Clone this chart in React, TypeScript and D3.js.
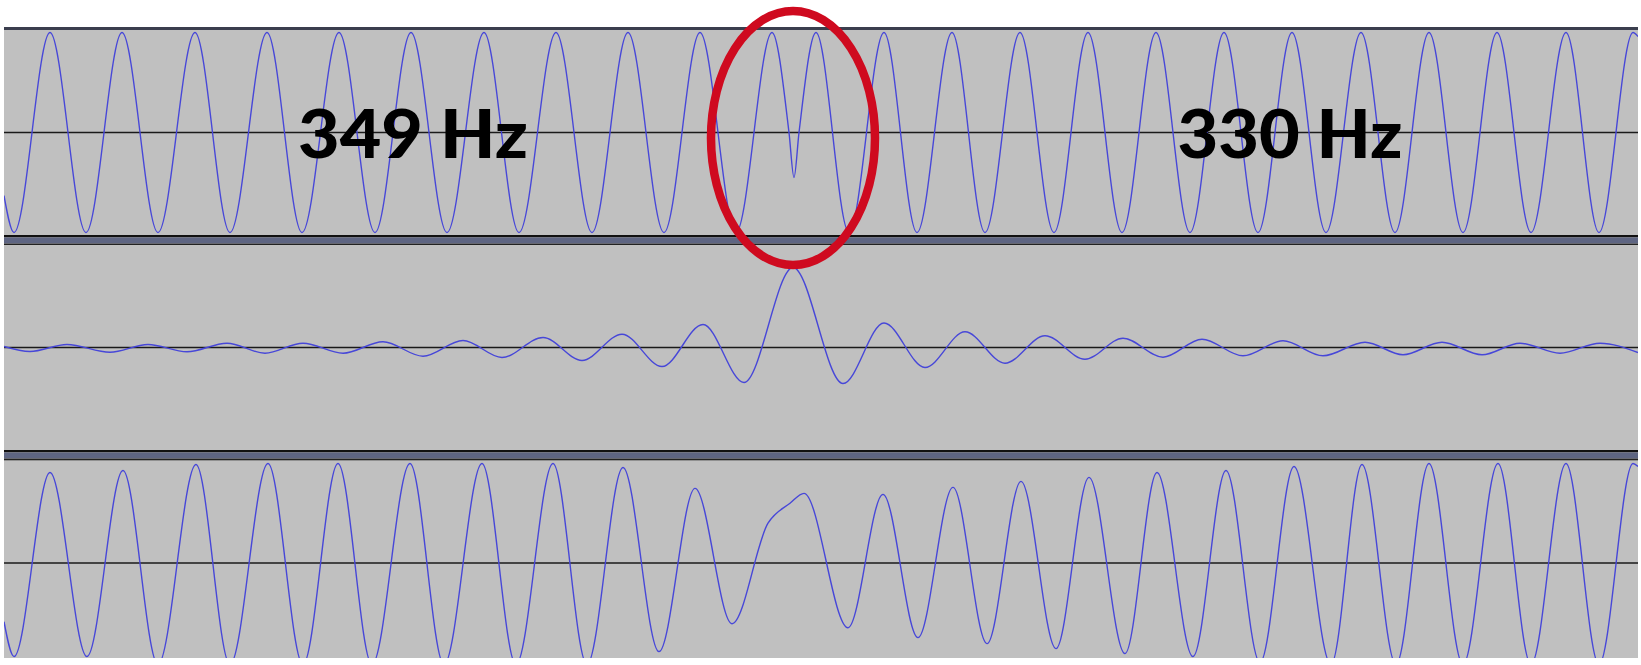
import React from "react";
import * as d3 from "d3";

// extrema read off the capture: [position along the track, amplitude]
// top track: 349 Hz tone switching abruptly to 330 Hz
const toneSwitch: [number, number][] = [
  [4, -0.63], [14, -1], [50, 1], [86, -1], [122, 1], [158, -1], [195, 1], [230, -1],
  [267, 1], [302, -1], [339, 1], [375, -1], [411, 1], [447, -1], [484, 1], [519, -1],
  [556, 1], [592, -1], [628, 1], [664, -1], [700, 1], [736, -1], [772, 1], [789, 0],
  [794, -0.45], [799, 0], [816, 1], [849, -1], [884, 1], [917, -1], [952, 1], [985, -1],
  [1020, 1], [1054, -1], [1088, 1], [1122, -1], [1156, 1], [1190, -1], [1224, 1], [1258, -1],
  [1292, 1], [1326, -1], [1361, 1], [1395, -1], [1429, 1], [1463, -1], [1497, 1], [1531, -1],
  [1566, 1], [1599, -1], [1633, 1], [1638, 0.96],
];

// middle track: the click (difference signal)
const clickSignal: [number, number][] = [
  [4, 0.01], [30, -0.04], [67, 0.03], [110, -0.047], [148, 0.03], [187, -0.043],
  [227, 0.043], [265, -0.057], [303, 0.043], [343, -0.057], [383, 0.057], [423, -0.087],
  [463, 0.07], [502, -0.1], [543, 0.1], [582, -0.13], [622, 0.133], [662, -0.19],
  [703, 0.23], [744, -0.35], [793, 0.8], [843, -0.36], [884, 0.245], [925, -0.2],
  [965, 0.157], [1005, -0.157], [1045, 0.117], [1085, -0.117], [1123, 0.093], [1163, -0.097],
  [1202, 0.083], [1243, -0.083], [1283, 0.067], [1323, -0.083], [1365, 0.053], [1403, -0.073],
  [1442, 0.053], [1482, -0.073], [1520, 0.043], [1560, -0.057], [1600, 0.043], [1638, -0.05],
];

// bottom track: smoothed transition
const smoothed: [number, number][] = [
  [4, -0.59], [14, -0.94], [50, 0.91], [87, -0.94], [123, 0.93], [158, -1.02], [196, 0.99],
  [230, -1.02], [268, 1.0], [303, -1.02], [338, 1.0], [372, -1.02], [410, 1.0], [444, -1.02],
  [482, 1.0], [516, -1.02], [553, 1.0], [587, -1.02], [623, 0.96], [659, -0.89], [695, 0.75],
  [732, -0.61], [768, 0.4], [790, 0.6], [804, 0.7], [848, -0.65], [883, 0.69], [918, -0.75],
  [953, 0.76], [987, -0.81], [1021, 0.82], [1056, -0.86], [1089, 0.86], [1125, -0.91],
  [1157, 0.91], [1193, -0.94], [1226, 0.93], [1260, -1.0], [1294, 0.97], [1331, -1.02],
  [1362, 0.99], [1396, -1.02], [1429, 1.0], [1463, -1.02], [1498, 1.0], [1531, -1.02],
  [1566, 1.0], [1599, -1.02], [1633, 1.0], [1638, 0.97],
];

const tracks = [toneSwitch, clickSignal, smoothed];
const labelText = ["349 Hz", "330 Hz"];
const labelPos = [413, 1290];
const glitchAt = 793;

const W = 1641;
const H = 665;
const left = 4;
const right = 1638;
// panel bands [top, bottom]; last one is cut by the image edge at 658
const bands: [number, number][] = [
  [30, 235],
  [245, 450],
  [461, 665],
];
const visibleBottom = 658;

const WAVE = "#4747d8";
const BG = "#c0c0c0";
const SLATE = "#5e6582";

export default function App() {
  const x = d3.scaleLinear().domain([4, 1638]).range([left, right]);

  const panels = bands.map(([t, b], i) => {
    const y = d3.scaleLinear().domain([-1.025, 1.025]).range([b, t]);
    const line = d3
      .line<[number, number]>()
      .x((d) => x(d[0]))
      .y((d) => y(d[1]))
      .curve(d3.curveMonotoneX);
    return { t, b: Math.min(b, visibleBottom), y, path: line(tracks[i]) || "", i };
  });

  const topY = panels[0].y;

  return (
    <svg
      width={W}
      height={H}
      style={{ position: "absolute", left: 0, top: 0, background: "#fff" }}
    >
      <defs>
        {panels.map((p) => (
          <clipPath id={`clip${p.i}`} key={p.i}>
            <rect x={left} y={p.t} width={right - left} height={p.b - p.t} />
          </clipPath>
        ))}
      </defs>

      {/* top border */}
      <rect x={left} y={27} width={right - left} height={3} fill="#3b3e4e" />

      {/* separators */}
      {[235, 450].map((s) => (
        <g key={s}>
          <rect x={left} y={s} width={right - left} height={2.5} fill="#111" />
          <rect x={left} y={s + 2.5} width={right - left} height={6} fill={SLATE} />
          <rect x={left} y={s + 8.5} width={right - left} height={2} fill="#222" />
        </g>
      ))}

      {panels.map((p) => (
        <g key={p.i}>
          <rect x={left} y={p.t} width={right - left} height={p.b - p.t} fill={BG} />
          <line
            x1={left}
            x2={right}
            y1={p.y(0)}
            y2={p.y(0)}
            stroke="#1a1a1a"
            strokeWidth={1.6}
          />
          <path
            d={p.path}
            fill="none"
            stroke={WAVE}
            strokeWidth={1.4}
            clipPath={`url(#clip${p.i})`}
          />
        </g>
      ))}

      {labelText.map((s, i) => (
        <text
          key={s}
          x={x(labelPos[i])}
          y={158}
          textAnchor="middle"
          fontFamily="Lato, 'DejaVu Sans', sans-serif"
          fontWeight={900}
          fontSize={66}
          textLength={i === 0 ? 230 : 225}
          lengthAdjust="spacingAndGlyphs"
          fill="#000"
        >
          {s}
        </text>
      ))}

      {/* marker round the switch point */}
      <ellipse
        cx={x(glitchAt)}
        cy={topY(-0.055)}
        rx={82}
        ry={127}
        fill="none"
        stroke="#cf0a1f"
        strokeWidth={8.5}
      />
    </svg>
  );
}
